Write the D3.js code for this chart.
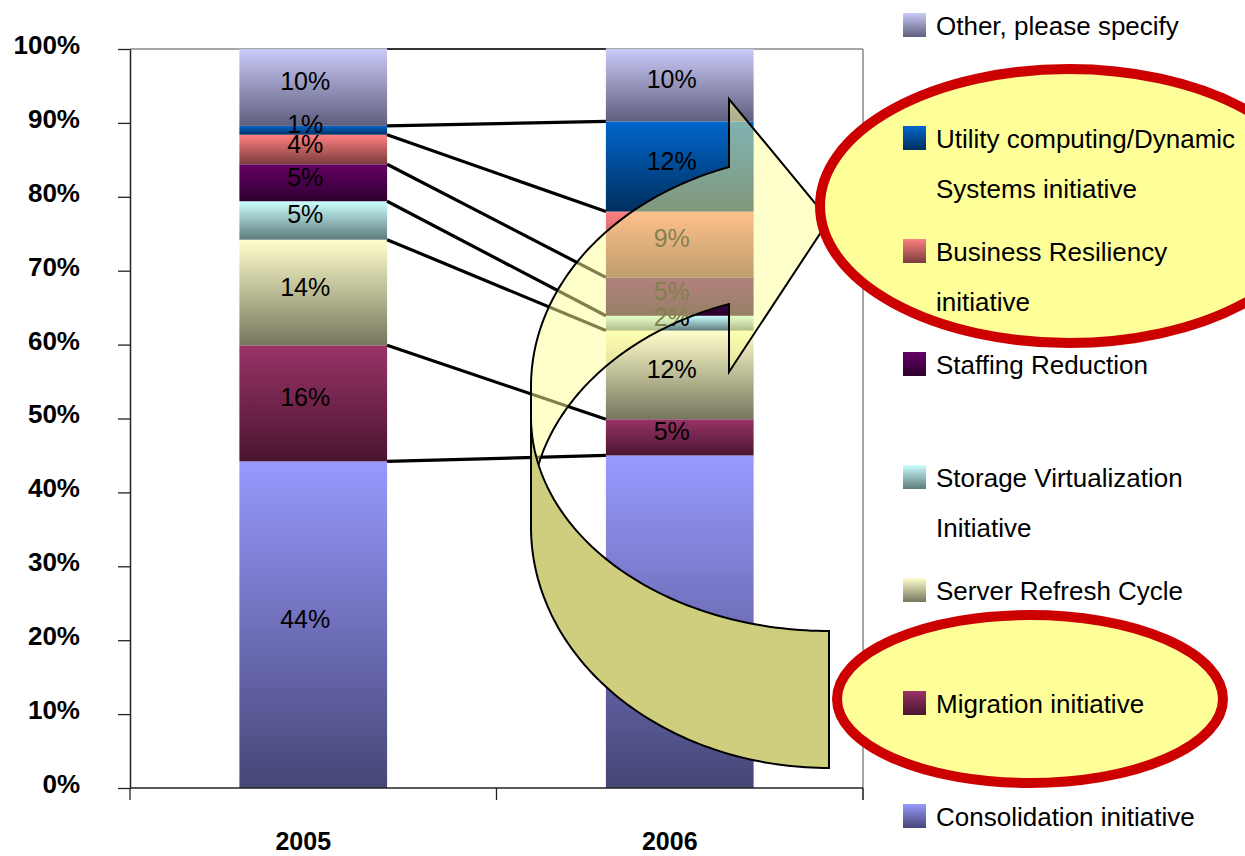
<!DOCTYPE html>
<html><head><meta charset="utf-8">
<script src="https://cdn.jsdelivr.net/npm/d3@7"></script>
<style>
body{margin:0;background:#fff;}
svg{display:block;font-family:"Liberation Sans",Arial,Helvetica,sans-serif;}
</style>
</head><body>
<svg id="chart" width="1245" height="856"></svg>
<script>
// ---------- DATA ----------
const categories = ["2005", "2006"];
// stacked from bottom to top
const seriesKeys = [
  "Consolidation initiative",
  "Migration initiative",
  "Server Refresh Cycle",
  "Storage Virtualization Initiative",
  "Staffing Reduction",
  "Business Resiliency initiative",
  "Utility computing/Dynamic Systems initiative",
  "Other, please specify"
];
const values2005 = [44.2, 15.7, 14.3, 5.2, 5.0, 4.0, 1.2, 10.4];
const values2006 = [45.0, 4.9, 12.0, 2.0, 5.2, 8.9, 12.2, 9.8];
const yTickValues = [0, 10, 20, 30, 40, 50, 60, 70, 80, 90, 100];
// legend, top to bottom, wrapped lines
const legendLines = [
  ["Other, please specify"],
  ["Utility computing/Dynamic", "Systems initiative"],
  ["Business Resiliency", "initiative"],
  ["Staffing Reduction"],
  ["Storage Virtualization", "Initiative"],
  ["Server Refresh Cycle"],
  ["Migration initiative"],
  ["Consolidation initiative"]
];
const legendKeys = seriesKeys.slice().reverse();

// ---------- STYLE ----------
const gradColors = {
  "Consolidation initiative": ["#9999FF", "#464677"],
  "Migration initiative": ["#993366", "#4A1530"],
  "Server Refresh Cycle": ["#FFFFCC", "#76765E"],
  "Storage Virtualization Initiative": ["#CCFFFF", "#5E7A7A"],
  "Staffing Reduction": ["#660066", "#2E002E"],
  "Business Resiliency initiative": ["#FF8080", "#7A3C3C"],
  "Utility computing/Dynamic Systems initiative": ["#0066CC", "#002F5E"],
  "Other, please specify": ["#CACAF8", "#5E5E7E"]
};

const svg = d3.select("#chart");
const plot = {left: 130, right: 863, top: 49, bottom: 788};

const x = d3.scaleBand().domain(categories).range([plot.left, plot.right]).padding(0);
const y = d3.scaleLinear().domain([0, 100]).range([plot.bottom, plot.top]);
const bw = x.bandwidth() * 0.403;
const barX = c => x(c) + (x.bandwidth() - bw) / 2;

const rows = categories.map((c, i) => {
  const o = {category: c};
  const vals = i === 0 ? values2005 : values2006;
  seriesKeys.forEach((k, j) => o[k] = vals[j]);
  return o;
});
const stacked = d3.stack().keys(seriesKeys)(rows);

// gradients
const defs = svg.append("defs");
seriesKeys.forEach((k, i) => {
  const g = defs.append("linearGradient").attr("id", "g" + i)
    .attr("x1", 0).attr("y1", 0).attr("x2", 0).attr("y2", 1);
  g.append("stop").attr("offset", "0%").attr("stop-color", gradColors[k][0]);
  g.append("stop").attr("offset", "100%").attr("stop-color", gradColors[k][1]);
});
const gid = k => "url(#g" + seriesKeys.indexOf(k) + ")";

// plot frame (top & right)
svg.append("line").attr("x1", plot.left).attr("x2", plot.right)
  .attr("y1", plot.top).attr("y2", plot.top).attr("stroke", "#888").attr("stroke-width", 1.5);
svg.append("line").attr("x1", plot.right).attr("x2", plot.right)
  .attr("y1", plot.top).attr("y2", plot.bottom + 12).attr("stroke", "#888").attr("stroke-width", 1.5);

// bars
const layers = svg.append("g").selectAll("g").data(stacked).join("g")
  .attr("fill", d => gid(d.key));
layers.selectAll("rect").data(d => d.map(p => ({p, key: d.key}))).join("rect")
  .attr("x", d => barX(d.p.data.category))
  .attr("width", bw)
  .attr("y", d => y(d.p[1]))
  .attr("height", d => y(d.p[0]) - y(d.p[1]));

// series lines
const gl = svg.append("g");
stacked.forEach((layer, i) => {
  const top = i === stacked.length - 1;
  gl.append("line")
    .attr("x1", barX(categories[0]) + bw).attr("y1", y(layer[0][1]))
    .attr("x2", barX(categories[1])).attr("y2", y(layer[1][1]))
    .attr("stroke", top ? "#333" : "#000").attr("stroke-width", top ? 2 : 3.2);
});

// bar labels
const labG = svg.append("g").attr("font-size", 25).attr("text-anchor", "middle").attr("fill", "#000");
stacked.forEach(layer => {
  layer.forEach(p => {
    labG.append("text")
      .attr("x", barX(p.data.category) + bw / 2 - 8)
      .attr("y", (y(p[0]) + y(p[1])) / 2 + 3)
      .text(d3.format(".0f")(p[1] - p[0]) + "%");
  });
});

// left axis
const yAxis = d3.axisLeft(y).tickValues(yTickValues).tickSize(12).tickPadding(38)
  .tickSizeOuter(0).tickFormat(d => d + "%");
const ga = svg.append("g").attr("transform", `translate(${plot.left},0)`).call(yAxis);
ga.select(".domain").attr("stroke", "#222").attr("stroke-width", 1.5);
ga.selectAll(".tick line").attr("stroke", "#222").attr("stroke-width", 1.3);
ga.selectAll(".tick text").attr("font-size", 26).attr("font-weight", "bold")
  .attr("fill", "#000").attr("dy", "0.17em").attr("font-family", "'Liberation Sans',Arial,sans-serif");

// bottom axis
svg.append("line").attr("x1", plot.left).attr("x2", plot.right)
  .attr("y1", plot.bottom).attr("y2", plot.bottom).attr("stroke", "#222").attr("stroke-width", 1.5);
const bounds = categories.map(c => x(c)).concat([plot.right]);
bounds.forEach(b => {
  svg.append("line").attr("x1", b).attr("x2", b).attr("y1", plot.bottom).attr("y2", plot.bottom + 12)
    .attr("stroke", "#222").attr("stroke-width", 1.3);
});
svg.append("g").selectAll("text").data(categories).join("text")
  .attr("x", c => x(c) + x.bandwidth() / 2 - 10)
  .attr("y", 850)
  .attr("text-anchor", "middle").attr("font-size", 25).attr("font-weight", "bold")
  .text(c => c);

// ---------- ANNOTATION: curved arrow ----------
const A = {L: 531, R: 829, HB: 729, tipY: 220, barbTop: 99, barbBot: 372,
  fo: {cy: 386.5, b: 233}, fi: {cy: 514.5, b: 223.5},
  bo: {cy: 527, b: 241}, bi: {cy: 417, b: 214}};
const ax = A.R - A.L;
const th = Math.acos((A.R - A.HB) / ax);
function arcPts(cx, cy, a, b, t0, t1, n = 80) {
  return d3.range(n + 1).map(i => {
    const t = t0 + (t1 - t0) * i / n;
    return [cx + a * Math.cos(t), cy + b * Math.sin(t)];
  });
}
const lineGen = d3.line();
const PI = Math.PI;
const frontPts = [].concat(
  arcPts(A.R, A.fo.cy, ax, A.fo.b, PI, PI + th),
  [[A.HB, A.barbTop], [A.R, A.tipY], [A.HB, A.barbBot]],
  arcPts(A.R, A.fi.cy, ax, A.fi.b, PI + th, PI)
);
const backPts = [].concat(
  arcPts(A.R, A.bo.cy, ax, A.bo.b, PI, PI / 2),
  arcPts(A.R, A.bi.cy, ax, A.bi.b, PI / 2, PI)
);
svg.append("path").attr("d", lineGen(frontPts) + "Z")
  .attr("fill", "#FFFF99").attr("fill-opacity", 0.5)
  .attr("stroke", "#000").attr("stroke-width", 2).attr("stroke-linejoin", "miter");
svg.append("path").attr("d", lineGen(backPts) + "Z")
  .attr("fill", "#CECE7E")
  .attr("stroke", "#000").attr("stroke-width", 2);

// highlight ellipses
svg.append("ellipse").attr("cx", 1069).attr("cy", 206).attr("rx", 249).attr("ry", 137)
  .attr("fill", "#FFFF99").attr("stroke", "#CC0000").attr("stroke-width", 10);
svg.append("ellipse").attr("cx", 1030).attr("cy", 699).attr("rx", 193).attr("ry", 84)
  .attr("fill", "#FFFF99").attr("stroke", "#CC0000").attr("stroke-width", 10);

// ---------- LEGEND ----------
const lg = svg.append("g");
legendKeys.forEach((k, i) => {
  const yb = 35 + 113 * i;
  lg.append("rect").attr("x", 903).attr("y", yb - 22).attr("width", 23).attr("height", 24)
    .attr("fill", gid(k));
  legendLines[i].forEach((ln, j) => {
    lg.append("text").attr("x", 936).attr("y", yb + 50 * j)
      .attr("font-size", 26).attr("fill", "#000").text(ln);
  });
});
</script>
</body></html>
